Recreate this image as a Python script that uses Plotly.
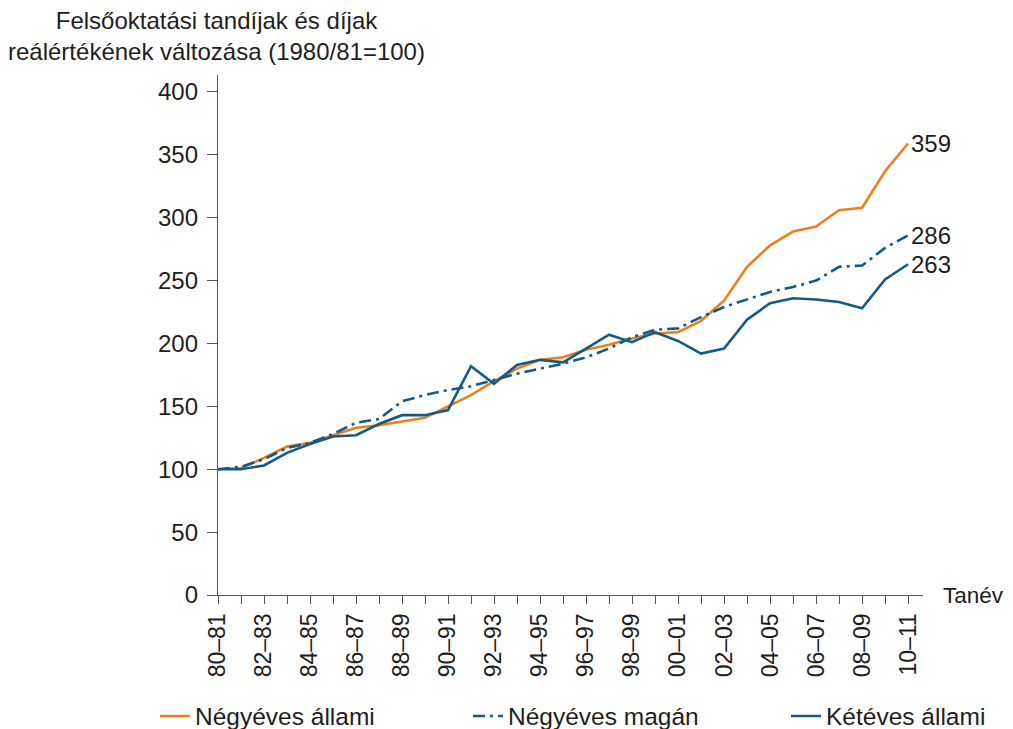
import plotly.graph_objects as go

# ── Data ──────────────────────────────────────────────────────────────────────
tanev = [
    "80–81", "81–82", "82–83", "83–84", "84–85", "85–86", "86–87", "87–88",
    "88–89", "89–90", "90–91", "91–92", "92–93", "93–94", "94–95", "95–96",
    "96–97", "97–98", "98–99", "99–00", "00–01", "01–02", "02–03", "03–04",
    "04–05", "05–06", "06–07", "07–08", "08–09", "09–10", "10–11",
]
negyeves_allami = [100, 101, 109, 118, 121, 127, 133, 135, 138, 141, 150, 159,
                   170, 180, 187, 189, 195, 199, 204, 208, 209, 218, 234, 261,
                   278, 289, 293, 306, 308, 337, 359]
negyeves_magan = [100, 102, 108, 117, 121, 128, 137, 140, 154, 159, 163, 166,
                  171, 176, 180, 184, 189, 196, 205, 211, 212, 221, 229, 235,
                  241, 245, 250, 261, 262, 276, 286]
keteves_allami = [100, 100, 103, 113, 120, 126, 127, 136, 143, 143, 147, 182,
                  168, 183, 187, 185, 196, 207, 201, 209, 202, 192, 196, 219,
                  232, 236, 235, 233, 228, 251, 263]
y_ticks = [0, 50, 100, 150, 200, 250, 300, 350, 400]

ORANGE = "#EE801C"
BLUE = "#135A84"
AXIS = "#555555"
FONT = "Liberation Sans, Arial, sans-serif"
TEXT = "#1e1e1e"

# page body has an 8px margin, so the figure is sized to the visible area
W, H = 1005, 721

x = list(range(len(tanev)))
tick_text = [t if i % 2 == 0 else "" for i, t in enumerate(tanev)]

fig = go.Figure()
fig.add_trace(go.Scatter(
    x=x, y=negyeves_allami, name="Négyéves állami", mode="lines",
    line=dict(color=ORANGE, width=2.6), legend="legend",
))
fig.add_trace(go.Scatter(
    x=x, y=negyeves_magan, name="Négyéves magán", mode="lines",
    line=dict(color=BLUE, width=2.6, dash="12px,5px,3px,5px"), legend="legend2",
))
fig.add_trace(go.Scatter(
    x=x, y=keteves_allami, name="Kétéves állami", mode="lines",
    line=dict(color=BLUE, width=2.6), legend="legend3",
))

# end-of-line value labels
for series in (negyeves_allami, negyeves_magan, keteves_allami):
    fig.add_annotation(
        x=x[-1], y=series[-1], text=str(series[-1]), showarrow=False,
        xanchor="left", xshift=1, font=dict(size=24, color=TEXT, family=FONT),
    )

fig.add_annotation(
    xref="paper", yref="paper", x=-0.002, y=1.0, yshift=70,
    text="Felsőoktatási tandíjak és díjak<br>reálértékének változása (1980/81=100)",
    showarrow=False, xanchor="center", yanchor="top", align="center",
    font=dict(size=24, color=TEXT, family=FONT),
)
fig.add_annotation(
    xref="paper", yref="y", x=1.0, y=0, xshift=18,
    text="Tanév", showarrow=False, xanchor="left", yanchor="middle",
    font=dict(size=22.5, color=TEXT, family=FONT),
)


def _legend(x_px):
    return dict(
        xref="container", yref="container",
        x=x_px / W, xanchor="left", y=1 - 708 / H, yanchor="middle",
        font=dict(size=24.5, color=TEXT, family=FONT),
        bgcolor="rgba(0,0,0,0)", borderwidth=0,
    )


fig.update_layout(
    width=W, height=H,
    paper_bgcolor="white", plot_bgcolor="white",
    margin=dict(l=210, r=90, t=67, b=134, autoexpand=False),
    font=dict(family=FONT, color=TEXT, size=24),
    showlegend=True,
    legend=_legend(147),
    legend2=_legend(460),
    legend3=_legend(778),
    xaxis=dict(
        range=[0, 30.65], tickmode="array", tickvals=x, ticktext=tick_text,
        tickangle=-90, ticks="outside", ticklen=8, tickwidth=1.3,
        tickcolor=AXIS, showline=True, linecolor=AXIS, linewidth=1.3,
        showgrid=False, zeroline=False,
        tickfont=dict(size=23, color=TEXT, family=FONT),
    ),
    yaxis=dict(
        range=[0, 413.5], tickmode="array", tickvals=y_ticks,
        ticks="outside", ticklen=10, tickwidth=1.3, tickcolor=AXIS,
        showline=True, linecolor=AXIS, linewidth=1.3,
        showgrid=False, zeroline=False, ticklabelstandoff=4,
        tickfont=dict(size=24, color=TEXT, family=FONT),
    ),
)

fig.write_html("out.html")
